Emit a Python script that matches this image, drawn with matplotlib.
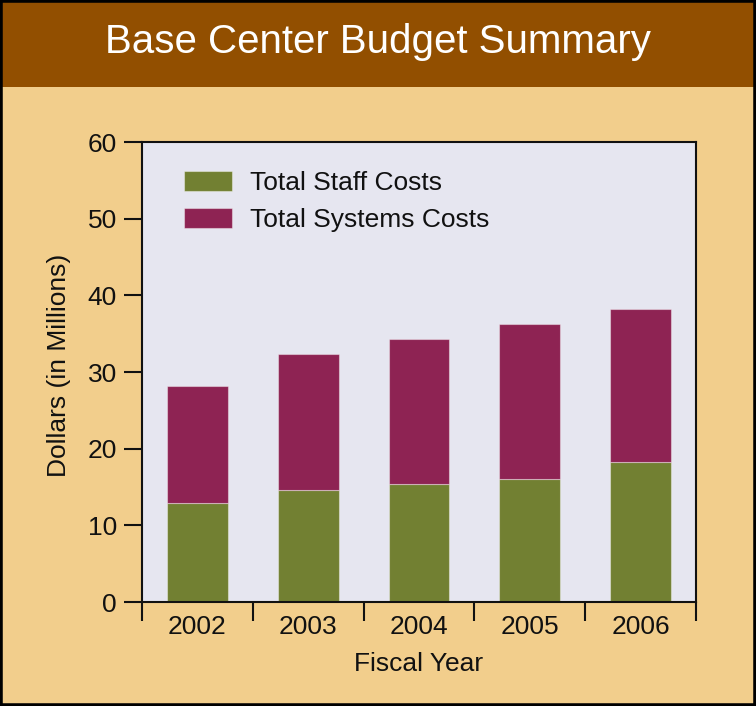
import matplotlib
matplotlib.use("Agg")
import matplotlib.pyplot as plt
from matplotlib.patches import Rectangle

years = ["2002", "2003", "2004", "2005", "2006"]
staff_costs = [12.9, 14.6, 15.35, 16.1, 18.2]
systems_costs = [15.3, 17.8, 18.95, 20.2, 20.0]
y_ticks = [0, 10, 20, 30, 40, 50, 60]

TAN = "#F2CE8C"
BROWN = "#924F00"
PLOTBG = "#E6E6F0"
GREEN = "#728032"
MAROON = "#8E2353"
DARK = "#111111"

plt.rcParams['font.family'] = ['Liberation Sans', 'DejaVu Sans']

fig = plt.figure(figsize=(7.56, 7.06), dpi=100)
fig.patch.set_facecolor(TAN)

# title band
fig.add_artist(Rectangle((0, 1 - 87 / 706), 1, 87 / 706, transform=fig.transFigure,
                         facecolor=BROWN, edgecolor="none", zorder=0))
# outer border
fig.add_artist(Rectangle((0, 0), 1, 1, transform=fig.transFigure,
                         facecolor="none", edgecolor="black", linewidth=4, zorder=10))
fig.text(0.5, 1 - 42 / 706, "Base Center Budget Summary", color="white",
         fontsize=29, ha="center", va="center")

ax = fig.add_axes([142 / 756, 1 - 602 / 706, (696 - 142) / 756, (602 - 142) / 706])
ax.set_facecolor(PLOTBG)

x = list(range(len(years)))
ax.bar(x, staff_costs, width=0.55, color=GREEN, edgecolor=(1, 1, 1, 0.4),
       linewidth=0.8, label="Total Staff Costs", zorder=2)
ax.bar(x, systems_costs, width=0.55, bottom=staff_costs, color=MAROON,
       edgecolor=(1, 1, 1, 0.4), linewidth=0.8, label="Total Systems Costs", zorder=2)

ax.set_xlim(-0.5, len(years) - 0.5)
ax.set_ylim(0, 60)
ax.set_yticks(y_ticks)
ax.set_yticklabels([str(v) for v in y_ticks], fontsize=19, color=DARK)

# major ticks at boundaries (no labels), minor ticks at centers for labels
ax.set_xticks([i - 0.5 for i in range(len(years) + 1)])
ax.set_xticklabels([])
ax.set_xticks(x, minor=True)
ax.set_xticklabels(years, minor=True, fontsize=19, color=DARK)
ax.tick_params(axis="x", which="major", direction="out", length=13.7, width=1.5, color=DARK)
ax.tick_params(axis="x", which="minor", length=0, pad=9.5)
ax.tick_params(axis="y", direction="out", length=13, width=1.5, color=DARK, pad=5)

for s in ax.spines.values():
    s.set_color(DARK)
    s.set_linewidth(1.5)

ax.set_xlabel("Fiscal Year", fontsize=19, color=DARK, labelpad=9)
ax.set_ylabel("Dollars (in Millions)", fontsize=19, color=DARK, labelpad=12)
ax.yaxis.label.set_y(0.515)

leg = ax.legend(loc="upper left", bbox_to_anchor=(0.0515, 0.966), frameon=False,
                fontsize=19, handlelength=1.82, handleheight=0.82,
                handletextpad=0.68, labelspacing=0.47, borderpad=0)
for t in leg.get_texts():
    t.set_color(DARK)

fig.savefig("out.png", dpi=100, facecolor=fig.get_facecolor())
